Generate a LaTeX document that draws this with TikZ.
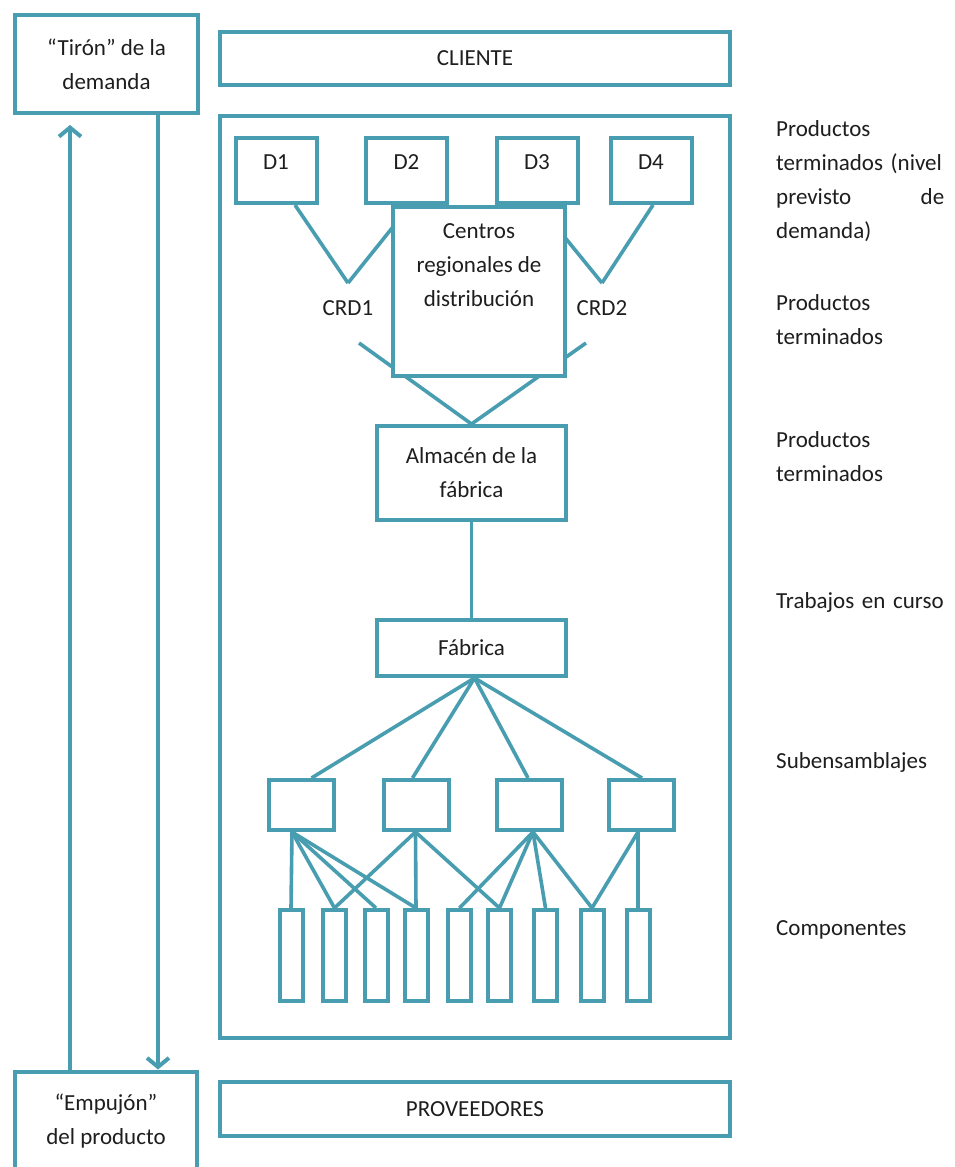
\documentclass[tikz,border=0pt]{standalone}
\usepackage{fontspec}
\setmainfont{Carlito}
\usepackage{tikz}
\usetikzlibrary{arrows.meta,positioning}
\definecolor{linea}{RGB}{72,158,176}
\definecolor{texto}{RGB}{30,30,30}
\tikzset{caja/.style={draw=linea,line width=4pt,fill=white,text=texto,align=center,inner sep=2pt},
         conn/.style={draw=linea,line width=3.6pt},
         flecha/.style={draw=linea,line width=4pt,-{Straight Barb[length=9pt,width=22pt]}},
         nivel/.style={text=texto,align=left,anchor=west,inner sep=0pt,text width=168pt}}

\begin{document}
\begin{tikzpicture}[x=1pt,y=-1pt,font=\fontsize{23}{34}\selectfont]
                   \path[use as bounding box,fill=white] (0,0) rectangle (955,1167);
                   % marco general
                   \node[caja,minimum width=183,minimum height=98] (tiron) at (106.5,64) {“Tirón” de la\\demanda};
                   \node[caja,minimum width=510,minimum height=53] (cliente) at (475,58) {CLIENTE};
                   \node[caja,minimum width=510,minimum height=922] (planta) at (475,577) {};
                   \node[caja,minimum width=182,minimum height=99] (empujon) at (106,1121) {“Empujón”\\del producto};
                   \node[caja,minimum width=510,minimum height=54] (proveedores) at (475,1109) {PROVEEDORES};
                   \draw[flecha,shorten >=10pt] (empujon.north -| 70,0) -- (tiron.south -| 70,0);
                   \draw[flecha] (tiron.south -| 158,0) -- (empujon.north -| 158,0);
                   % distribuidores
                   \node[caja,minimum width=81,minimum height=65,text depth=16pt] (d_1) at (276,170.5) {D1};
                   \node[caja,minimum width=81,minimum height=65,text depth=16pt] (d_2) at (406.5,170.5) {D2};
                   \node[caja,minimum width=81,minimum height=65,text depth=16pt] (d_3) at (537,170.5) {D3};
                   \node[caja,minimum width=81,minimum height=65,text depth=16pt] (d_4) at (651,170.5) {D4};
                   \node[caja,minimum width=189,minimum height=94] (almacen) at (471.5,473) {Almacén de la\\fábrica};
                   \node[caja,minimum width=189,minimum height=56] (fabrica) at (471.5,648) {Fábrica};
                   \coordinate (crd_1) at (348,283);
                   \coordinate (crd_2) at (602,283);
                   \coordinate (crd_1b) at (359,343);
                   \coordinate (crd_2b) at (586,343);
                    \path[conn]
                    (crd_1) edge ([xshift=19pt]d_1.south)
                            edge ([xshift=4pt]d_2.south)
                    (crd_2) edge ([xshift=1.5pt]d_3.south)
                            edge ([xshift=2pt]d_4.south)
                    (almacen.north) edge (crd_1b)
                                    edge (crd_2b)
                    (almacen) edge (fabrica);
                   \node[caja,minimum width=172,minimum height=169] (centros) at (479,291.5) {};
                   \node[text=texto,align=center] (centros_txt) at (479,265) {Centros\\regionales de\\distribución};
                   \node[text=texto] (crd_1_lbl) [below=14pt of crd_1] {CRD1};
                   \node[text=texto] (crd_2_lbl) [below=14pt of crd_2] {CRD2};
                   % subensamblajes y componentes
                   \node[caja,minimum width=65,minimum height=50] (s_1) at (301.5,805) {};
                   \node[caja,minimum width=65,minimum height=50] (s_2) at (416.5,805) {};
                   \node[caja,minimum width=65,minimum height=50] (s_3) at (529,805) {};
                   \node[caja,minimum width=65,minimum height=50] (s_4) at (641,805) {};
                   \node[caja,minimum width=23,minimum height=91] (c_1) at (291,955.5) {};
                   \node[caja,minimum width=23,minimum height=91] (c_2) at (334.5,955.5) {};
                   \node[caja,minimum width=23,minimum height=91] (c_3) at (376,955.5) {};
                   \node[caja,minimum width=23,minimum height=91] (c_4) at (416,955.5) {};
                   \node[caja,minimum width=23,minimum height=91] (c_5) at (459.5,955.5) {};
                   \node[caja,minimum width=23,minimum height=91] (c_6) at (499.5,955.5) {};
                   \node[caja,minimum width=23,minimum height=91] (c_7) at (545.5,955.5) {};
                   \node[caja,minimum width=23,minimum height=91] (c_8) at (592,955.5) {};
                   \node[caja,minimum width=23,minimum height=91] (c_9) at (638,955.5) {};
                   \coordinate (h_1) at ([xshift=-9.5pt]s_1.south);
                   \coordinate (h_2) at ([xshift=-1pt]s_2.south);
                   \coordinate (h_3) at ([xshift=4pt]s_3.south);
                   \coordinate (h_4) at ([xshift=-3pt]s_4.south);
                    \path[conn]
                    ([xshift=3pt]fabrica.south) edge ([xshift=10pt]s_1.north)
                                                edge ([xshift=-4pt]s_2.north)
                                                edge ([xshift=-1pt]s_3.north)
                                                edge ([xshift=1pt]s_4.north)
                    (h_1) edge (c_1.north) edge (c_2.north) edge (c_3.north) edge (c_4.north)
                    (h_2) edge (c_2.north) edge (c_4.north) edge (c_6.north)
                    (h_3) edge (c_5.north) edge (c_6.north) edge (c_7.north) edge (c_8.north)
                    (h_4) edge (c_8.north) edge (c_9.north);
                   % niveles de inventario
                   \node[nivel] (niv_1) at (776,181) {Productos\\terminados (nivel\\previsto\hfill de\\demanda)};
                   \node[nivel] (niv_2) at (776,320) {Productos\\terminados};
                   \node[nivel] (niv_3) at (776,456.5) {Productos\\terminados};
                   \node[nivel] (niv_4) at (776,602) {Trabajos en curso};
                   \node[nivel] (niv_5) at (776,762) {Subensamblajes};
                   \node[nivel] (niv_6) at (776,930) {Componentes};
                \end{tikzpicture}
\end{document}
